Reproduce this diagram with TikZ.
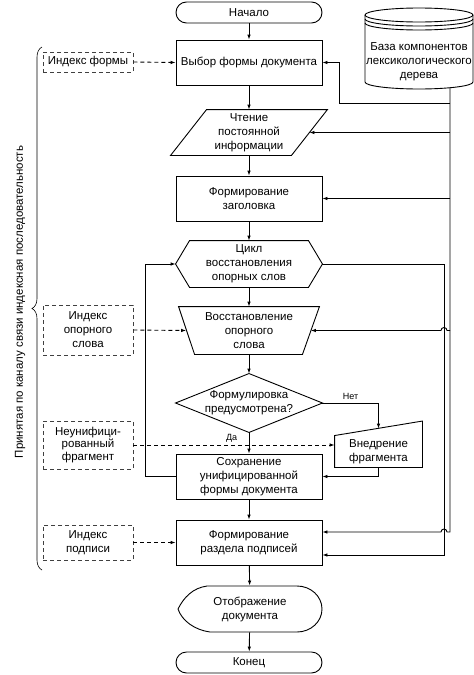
\documentclass[tikz,border=0pt]{standalone}
\usepackage{fontspec}
\setmainfont{Liberation Sans}
\usetikzlibrary{arrows.meta,decorations.pathreplacing}

\begin{document}
\begin{tikzpicture}[x=1pt,y=-1pt,line width=0.9pt,font=\fontsize{11.5}{14}\selectfont,>={Latex[length=5pt,width=3.6pt]}]

	\tikzstyle{block}=[draw,rectangle,text centered,align=center,inner sep=0pt,minimum width=146pt,minimum height=45pt]
	\tikzstyle{term}=[block,rounded corners=10.5pt,minimum height=21pt]
	\tikzstyle{blank}=[rectangle,text centered,align=center,inner sep=0pt]
	\tikzstyle{index}=[draw=black!75,dash pattern=on 4pt off 3pt,rectangle,text centered,align=center,inner sep=0pt,minimum width=90pt]
	\tikzstyle{small}=[font=\fontsize{9}{11}\selectfont]

	\useasboundingbox (0,0) rectangle (474,675);

	\node[term] (start) at (249,12.5) {Начало};
	\node[block] (choose) at (249,62.5) {Выбор формы документа};

	\node[blank,minimum width=156pt,minimum height=45pt] (read) at (249,132.5) {Чтение\\постоянной\\информации};
	\draw (read.south west) -- ([xshift=36pt]read.north west) -- (read.north east) -- ([xshift=-36pt]read.south east) -- cycle;

	\node[block] (head) at (249,198.5) {Формирование\\заголовка};

	\node[blank,minimum width=146pt,minimum height=46pt] (loop) at (249,264) {Цикл\\восстановления\\опорных слов};
	\draw (loop.west) -- ([xshift=14pt]loop.north west) -- ([xshift=-14pt]loop.north east) -- (loop.east) -- ([xshift=-14pt]loop.south east) -- ([xshift=14pt]loop.south west) -- cycle;

	\node[blank,minimum width=140pt,minimum height=47pt] (restore) at (249,330.5) {Восстановление\\опорного\\слова};
	\draw (restore.north west) -- (restore.north east) -- ([xshift=-17pt]restore.south east) -- ([xshift=16pt]restore.south west) -- cycle;

	\node[blank,minimum width=146pt,minimum height=58pt] (cond) at (249,403) {Формулировка\\предусмотрена?};
	\draw (cond.west) -- (cond.north) -- (cond.east) -- (cond.south) -- cycle;

	\node[blank,minimum width=87pt,minimum height=31pt] (insert) at (378.5,451.5) {Внедрение\\фрагмента};
	\draw (insert.south west) -- (insert.north west) -- ([yshift=14.5pt]insert.north east) -- (insert.south east) -- cycle;

	\node[block] (save) at (249,476.5) {Сохранение\\унифицированной\\формы документа};
	\node[block] (sign) at (249,542.5) {Формирование\\раздела подписей};

	\node[blank,minimum width=144pt,minimum height=46pt] (show) at (250,609) {Отображение\\документа};
	\draw[shift={(show)}] (-43,-23) -- (47,-23) arc[start angle=90,end angle=-90,x radius=25pt,y radius=23pt] -- (-40,23) .. controls (-55,21) and (-68,12) .. (-72,0) .. controls (-66,-12) and (-57,-21) .. (-43,-23) -- cycle;

	\node[term] (finish) at (249,662.5) {Конец};

	% база
	\node[blank,minimum width=108pt] (db) at (419,62) {База компонентов\\лексикологического\\дерева};
	\draw[shift={(db)}] (0,-47) ellipse [x radius=54pt,y radius=7pt];
	\draw[shift={(db)}] (-54,-43) arc[start angle=180,end angle=360,x radius=54pt,y radius=7pt];
	\draw[shift={(db)}] (-54,-39) arc[start angle=180,end angle=360,x radius=54pt,y radius=7pt];
	\draw[shift={(db)}] (-54,-47) -- (-54,20) arc[start angle=180,end angle=360,x radius=54pt,y radius=7pt] -- (54,-47);
	\coordinate (dbout) at (450,87.7);

	% индексы
	\node[index,minimum height=20pt] (ixform) at (88,62) {Индекс формы};
	\node[index,minimum height=50pt] (ixword) at (88,330) {Индекс\\опорного\\слова};
	\node[index,minimum height=48pt,font=\fontsize{11.5}{12.5}\selectfont] (frag) at (88,445) {Неунифици-\\рованный\\фрагмент};
	\node[index,minimum height=35pt] (ixsign) at (88,542.5) {Индекс\\подписи};

	\draw[decorate,decoration={brace,amplitude=10pt},line width=0.6pt] (42,570) -- (42,47);
	\node[rotate=90] (recv) at (20,302) {Принятая по каналу связи индексная последовательность};

	\draw[->] (start) -- (choose);
	\draw[->] (choose) -- (read);
	\draw[->] (read) -- (head);
	\draw[->] (head) -- (loop);
	\draw[->] (loop) -- (restore);
	\draw[->] (restore) -- (cond);
	\draw[->] (cond.south) -- node[small,pos=0.3,left=8pt] {Да} (save.north);
	\draw[->] (cond.east) -| node[small,pos=0.25,above] {Нет} ([yshift=7pt]insert.north);
	\draw[->] (insert.south) |- (save.east);
	\draw[->] (save) -- (sign);
	\draw[->] (sign) -- (show);
	\draw[->] (show) -- (finish);
	\draw[->] (save.west) -- ++(-30,0) |- (loop.west);
	\draw[->] (loop.east) -- ++(122,0) |- ([yshift=-12.5pt]sign.east);

	\draw[->] ([yshift=6pt]dbout |- read.north) -- ++(-111,0) |- (choose.east);
	\draw[->] (dbout |- read.east) -- ([xshift=-18pt]read.east);
	\draw[->] (dbout |- head.east) -- (head.east);
	\draw[->] (dbout |- restore.east) -- ++(-3,0) arc[start angle=0,end angle=180,radius=3pt] -- ([xshift=-8.5pt]restore.east);
	\draw[->] (dbout) -- ([yshift=10.5pt]dbout |- sign.east) -- ++(-3,0) arc[start angle=0,end angle=180,radius=3pt] -- ([yshift=10.5pt]sign.east);

	\draw[->,dash pattern=on 4pt off 3pt] (ixform.east) -- (choose.west);
	\draw[->,dash pattern=on 4pt off 3pt] (ixword.east) -- ([xshift=7.5pt]restore.west);
	\draw[->,dash pattern=on 4pt off 3pt] (frag.east) -- (frag.east -| insert.west);
	\draw[->,dash pattern=on 4pt off 3pt] (ixsign.east) -- (sign.west);

\end{tikzpicture}
\end{document}
